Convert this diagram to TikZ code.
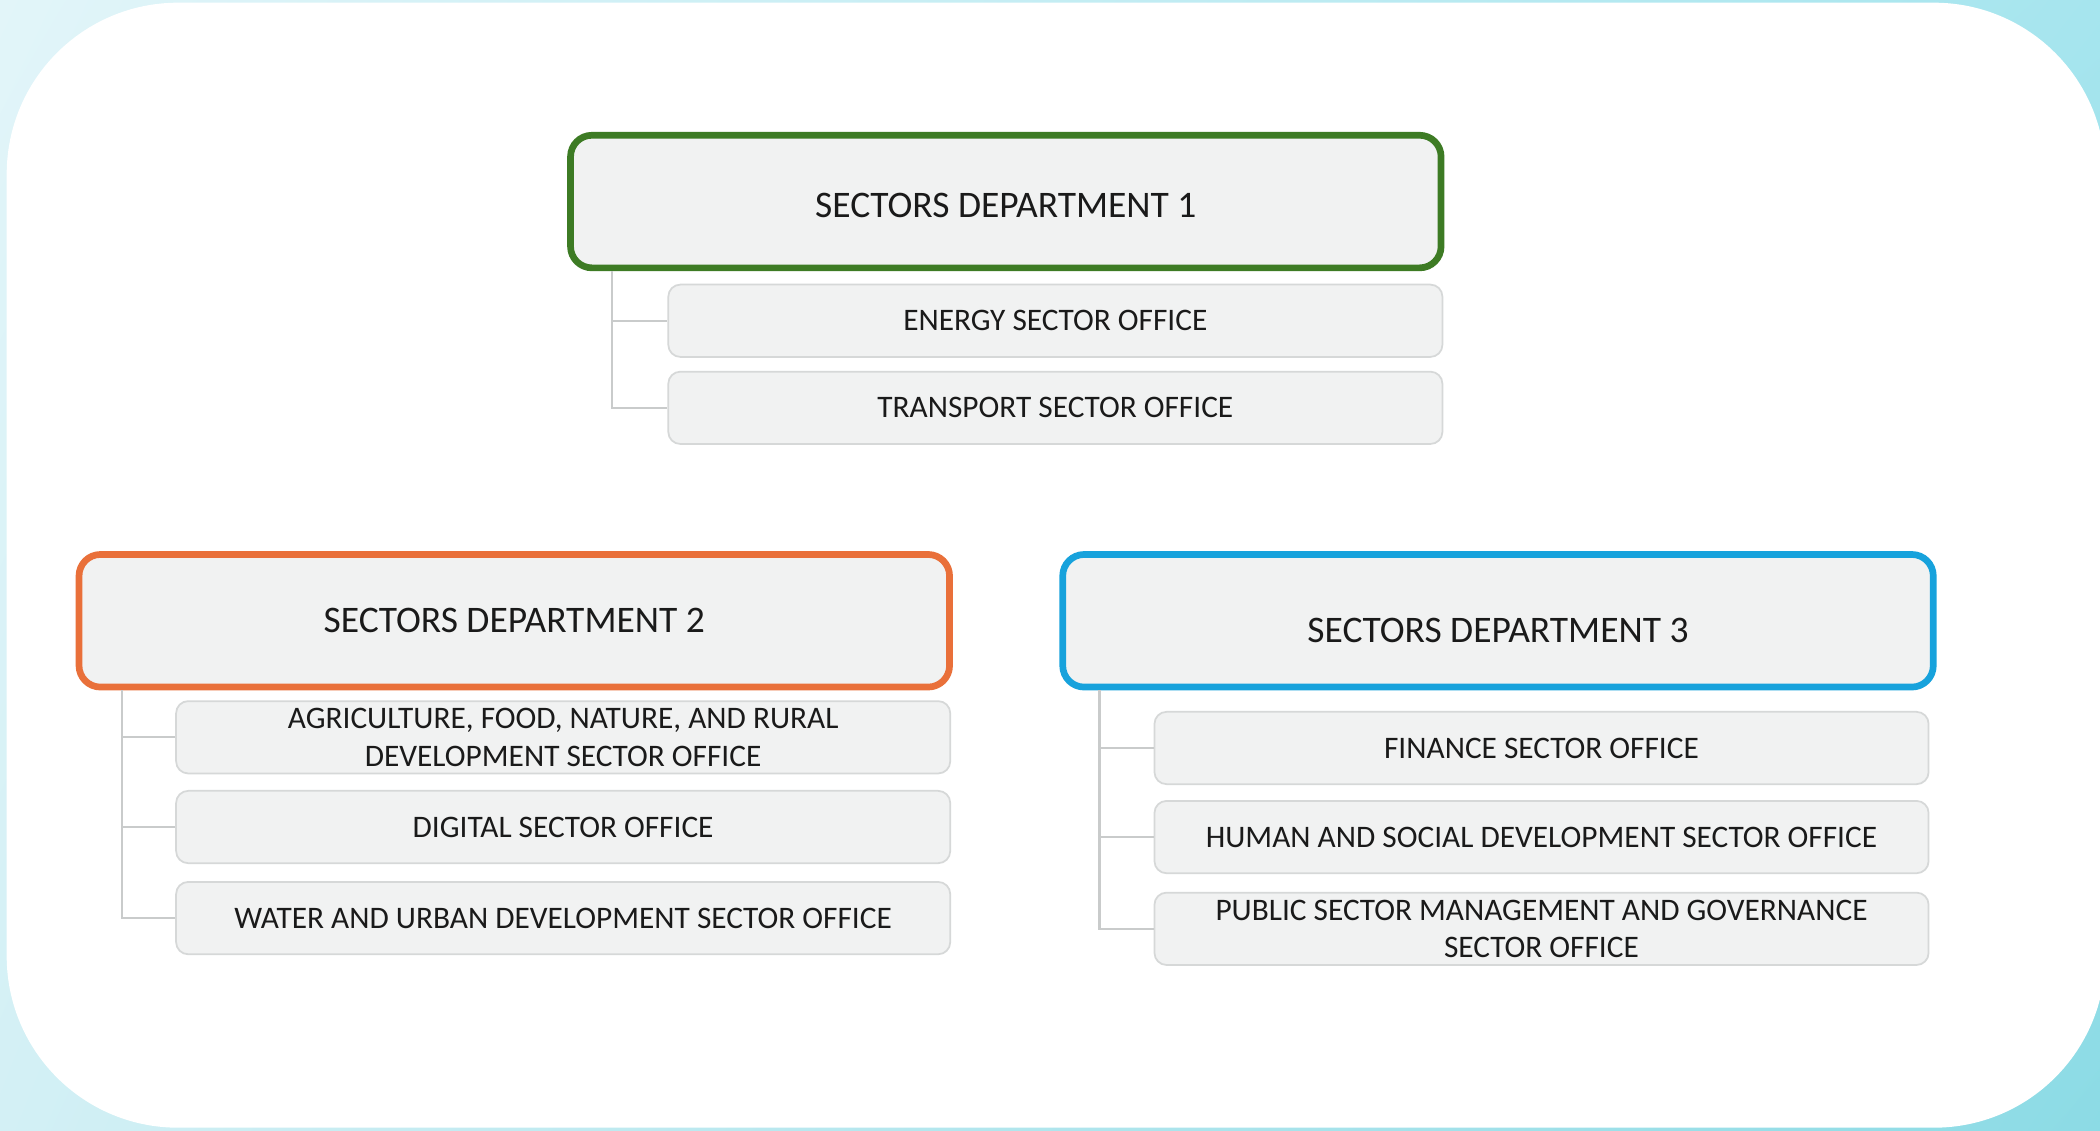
\documentclass[tikz,border=0pt]{standalone}
\usepackage{fontspec}
\setmainfont{Carlito}
\usetikzlibrary{shadings}
\definecolor{boxfill}{HTML}{F1F2F2}
\definecolor{boxline}{HTML}{D6D8D8}
\definecolor{connline}{HTML}{C9CBCB}
\definecolor{deptgreen}{HTML}{3D7B24}
\definecolor{deptorange}{HTML}{E9703A}
\definecolor{deptblue}{HTML}{17A2DC}
\definecolor{txt}{HTML}{1A1A1A}
\definecolor{bgA}{HTML}{E2F5F9}
\definecolor{bgB}{HTML}{A6E5EE}
\definecolor{bgC}{HTML}{D3F0F5}
\definecolor{bgD}{HTML}{8CDBE5}
\tikzset{
  dept/.style={draw, line width=5pt, fill=boxfill, rounded corners=16pt,
    minimum width=650pt, minimum height=99pt, inner sep=0pt,
    text=txt, font=\fontsize{28}{33}\selectfont},
  office/.style={draw=boxline, line width=1.3pt, fill=boxfill, rounded corners=9pt,
    minimum width=578pt, minimum height=54pt, inner sep=0pt, align=center,
    text=txt, font=\fontsize{23.4}{28}\selectfont},
  conn/.style={draw=connline, line width=1.6pt}
}
\newcommand{\lowertext}[2]{\raisebox{-#1}[\height][\depth]{#2}}
\begin{document}
\begin{tikzpicture}[x=1pt,y=-1pt]
\useasboundingbox (0,0) rectangle (1568,844);
\shade[upper left=bgA, upper right=bgB, lower left=bgC, lower right=bgD] (0,0) rectangle (1568,844);
\fill[white, rounded corners=128pt] (5,2) rectangle (1572,842);

% Department 1
\node[dept, draw=deptgreen] (d1) at (751,150.5) {\lowertext{3pt}{SECTORS DEPARTMENT 1}};
\node[office] (e1) at (788,239.5) {ENERGY SECTOR OFFICE};
\node[office] (e2) at (788,304.5) {TRANSPORT SECTOR OFFICE};
\coordinate (j1) at (457,0);
\draw[conn] (d1.south -| j1) |- (e1.west);
\draw[conn] (d1.south -| j1) |- (e2.west);

% Department 2
\node[dept, draw=deptorange] (d2) at (384,463.5) {SECTORS DEPARTMENT 2};
\node[office] (a1) at (420.5,550.5) {AGRICULTURE, FOOD, NATURE, AND RURAL\\DEVELOPMENT SECTOR OFFICE};
\node[office] (a2) at (420.5,617.5) {DIGITAL SECTOR OFFICE};
\node[office] (a3) at (420.5,685.5) {WATER AND URBAN DEVELOPMENT SECTOR OFFICE};
\coordinate (j2) at (91,0);
\draw[conn] (d2.south -| j2) |- (a1.west);
\draw[conn] (d2.south -| j2) |- (a2.west);
\draw[conn] (d2.south -| j2) |- (a3.west);

% Department 3
\node[dept, draw=deptblue] (d3) at (1118.5,463.5) {\lowertext{7pt}{SECTORS DEPARTMENT 3}};
\node[office] (b1) at (1151,558.5) {FINANCE SECTOR OFFICE};
\node[office] (b2) at (1151,625) {HUMAN AND SOCIAL DEVELOPMENT SECTOR OFFICE};
\node[office] (b3) at (1151,693.5) {PUBLIC SECTOR MANAGEMENT AND GOVERNANCE\\SECTOR OFFICE};
\coordinate (j3) at (821,0);
\draw[conn] (d3.south -| j3) |- (b1.west);
\draw[conn] (d3.south -| j3) |- (b2.west);
\draw[conn] (d3.south -| j3) |- (b3.west);
\end{tikzpicture}
\end{document}
